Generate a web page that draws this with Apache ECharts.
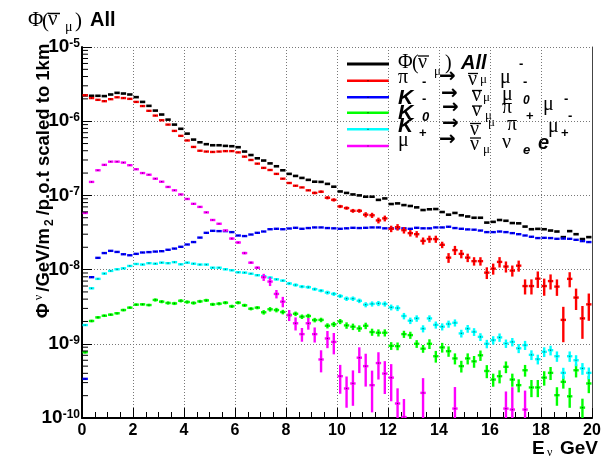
<!DOCTYPE html>
<html>
<head>
<meta charset="utf-8">
<script src="https://cdn.jsdelivr.net/npm/echarts@6/dist/echarts.min.js"></script>
<style>
  html, body { margin: 0; padding: 0; background: #ffffff; }
  #chart { width: 607px; height: 456px; }
</style>
</head>
<body>
<div id="chart"></div>
<script>
// Histogram binning: 80 bins of 0.25 GeV from 0 to 20 GeV
const binWidth = 0.25;
const nBins = 80;
const binCenters = Array.from({ length: nBins }, (_, i) => binWidth * (i + 0.5));

// Axis ranges and tick values
const xRange = [0, 20];
const yRange = [1e-10, 1e-5];
const xTickStep = 2;
const yMinorMultipliers = [2, 3, 4, 5, 6, 7, 8, 9];

// Total anti-nu_mu flux (black)
const fluxAll = [
  2.23e-6, 2.2e-6, 2.2e-6, 2.18e-6, 2.29e-6, 2.41e-6, 2.36e-6, 2.29e-6, 2.11e-6, 1.82e-6,
  1.61e-6, 1.39e-6, 1.23e-6, 1.05e-6, 9.0e-7, 7.9e-7, 6.8e-7, 5.65e-7, 5.2e-7, 4.9e-7,
  4.74e-7, 4.74e-7, 4.65e-7, 4.6e-7, 4.46e-7, 3.9e-7, 3.5e-7, 3.16e-7, 2.95e-7, 2.7e-7,
  2.47e-7, 2.18e-7, 1.95e-7, 1.83e-7, 1.72e-7, 1.62e-7, 1.53e-7, 1.52e-7, 1.43e-7, 1.31e-7,
  1.13e-7, 1.08e-7, 1.03e-7, 1.0e-7, 9.6e-8, 9.6e-8, 8.7e-8, 9.1e-8, 7.65e-8, 7.8e-8,
  7.4e-8, 7.2e-8, 6.9e-8, 6.35e-8, 6.5e-8, 6.55e-8, 5.97e-8, 5.5e-8, 5.8e-8, 5.4e-8,
  5.2e-8, 5.0e-8, 5.0e-8, 4.3e-8, 4.4e-8, 4.66e-8, 4.55e-8, 4.24e-8, 4.2e-8, 3.8e-8,
  3.5e-8, 3.54e-8, 3.5e-8, 3.36e-8, 3.26e-8, 2.74e-8, 3.3e-8, 3.0e-8, 2.58e-8, 2.74e-8
];

// pi- -> anti-nu_mu mu- (red)
const fluxPiMinus = [
  2.24e-6, 2.05e-6, 1.94e-6, 1.86e-6, 1.98e-6, 2.1e-6, 2.05e-6, 2.0e-6, 1.82e-6, 1.6e-6,
  1.38e-6, 1.19e-6, 1.03e-6, 9.0e-7, 7.4e-7, 6.35e-7, 5.5e-7, 4.5e-7, 4.0e-7, 3.9e-7,
  3.85e-7, 3.9e-7, 3.95e-7, 3.95e-7, 3.8e-7, 3.33e-7, 3.0e-7, 2.68e-7, 2.35e-7, 2.2e-7,
  1.95e-7, 1.68e-7, 1.47e-7, 1.35e-7, 1.28e-7, 1.17e-7, 1.08e-7, 1.12e-7, 9.3e-8, 8.7e-8,
  7.1e-8, 6.75e-8, 6.2e-8, 6.2e-8, 5.5e-8, 5.4e-8, 4.6e-8, 4.9e-8, 3.55e-8, 3.73e-8,
  3.4e-8, 3.1e-8, 3.0e-8, 2.44e-8, 2.58e-8, 2.58e-8, 2.16e-8, 1.45e-8, 1.83e-8, 1.63e-8,
  1.45e-8, 1.3e-8, 1.3e-8, 9.1e-9, 1.03e-8, 1.27e-8, 1.1e-8, 9.7e-9, 1.13e-8, 6.0e-9,
  6.0e-9, 7.55e-9, 6.0e-9, 7.0e-9, 5.9e-9, 2.1e-9, 7.5e-9, 4.2e-9, 2.2e-9, 3.4e-9
];
const errPiMinus = [
  0.01, 0.01, 0.01, 0.01, 0.01, 0.01, 0.01, 0.01, 0.01, 0.01,
  0.01, 0.01, 0.01, 0.01, 0.01, 0.01, 0.01, 0.01, 0.01, 0.01,
  0.01, 0.01, 0.01, 0.01, 0.01, 0.01, 0.01, 0.01, 0.01, 0.01,
  0.01, 0.01, 0.01, 0.01, 0.01, 0.01, 0.04, 0.04, 0.05, 0.05,
  0.05, 0.05, 0.06, 0.06, 0.08, 0.08, 0.09, 0.09, 0.1, 0.1,
  0.1, 0.1, 0.1, 0.11, 0.11, 0.11, 0.1, 0.15, 0.14, 0.13,
  0.13, 0.13, 0.13, 0.18, 0.17, 0.16, 0.17, 0.17, 0.17, 0.23,
  0.23, 0.25, 0.26, 0.23, 0.25, 0.5, 0.23, 0.32, 0.47, 0.4
];

// K- -> anti-nu_mu mu- (blue)
const fluxKMinus = [
  3.37e-10, 7.9e-9, 1.44e-8, 1.67e-8, 1.79e-8, 1.73e-8, 1.61e-8, 1.56e-8, 1.63e-8, 1.7e-8,
  1.72e-8, 1.75e-8, 1.77e-8, 1.85e-8, 1.92e-8, 2.03e-8, 2.18e-8, 2.35e-8, 2.7e-8, 3.13e-8,
  3.33e-8, 3.3e-8, 3.3e-8, 3.2e-8, 2.88e-8, 2.83e-8, 2.97e-8, 3.13e-8, 3.26e-8, 3.5e-8,
  3.55e-8, 3.5e-8, 3.58e-8, 3.66e-8, 3.55e-8, 3.63e-8, 3.7e-8, 3.7e-8, 3.63e-8, 3.6e-8,
  3.55e-8, 3.6e-8, 3.66e-8, 3.63e-8, 3.66e-8, 3.7e-8, 3.7e-8, 3.6e-8, 3.6e-8, 3.6e-8,
  3.6e-8, 3.55e-8, 3.66e-8, 3.6e-8, 3.6e-8, 3.7e-8, 3.7e-8, 3.78e-8, 3.63e-8, 3.55e-8,
  3.48e-8, 3.45e-8, 3.36e-8, 3.2e-8, 3.2e-8, 3.26e-8, 3.2e-8, 3.1e-8, 3.0e-8, 2.88e-8,
  2.77e-8, 2.66e-8, 2.68e-8, 2.66e-8, 2.6e-8, 2.62e-8, 2.6e-8, 2.52e-8, 2.42e-8, 2.35e-8
];

// K0 -> anti-nu_mu pi+ mu- (green)
const fluxK0 = [
  7.7e-10, 2.03e-9, 2.27e-9, 2.39e-9, 2.47e-9, 2.58e-9, 2.85e-9, 3.07e-9, 3.37e-9, 3.4e-9,
  3.33e-9, 3.9e-9, 3.7e-9, 3.55e-9, 3.5e-9, 3.8e-9, 3.66e-9, 3.55e-9, 3.73e-9, 3.85e-9,
  3.4e-9, 3.47e-9, 3.58e-9, 3.2e-9, 3.58e-9, 3.3e-9, 2.97e-9, 3.07e-9, 2.66e-9, 2.92e-9,
  2.85e-9, 2.68e-9, 2.44e-9, 2.54e-9, 2.32e-9, 2.37e-9, 2.09e-9, 2.1e-9, 1.75e-9, 1.83e-9,
  2.0e-9, 1.77e-9, 1.7e-9, 1.61e-9, 1.75e-9, 1.44e-9, 1.41e-9, 1.41e-9, 9.4e-10, 9.3e-10,
  1.35e-9, 1.31e-9, 1.0e-9, 8.6e-10, 1.0e-9, 6.8e-10, 8.95e-10, 7.95e-10, 6.35e-10, 5.0e-10,
  6.35e-10, 5.8e-10, 7.0e-10, 4.3e-10, 3.3e-10, 3.66e-10, 4.9e-10, 3.3e-10, 2.77e-10, 4.4e-10,
  2.58e-10, 2.58e-10, 3.5e-10, 4.06e-10, 2.03e-10, 3.07e-10, 1.96e-10, 4.4e-10, 1.38e-10, 2.92e-10
];
const errK0 = [
  0.04, 0.04, 0.04, 0.04, 0.04, 0.04, 0.04, 0.04, 0.04, 0.04,
  0.04, 0.05, 0.05, 0.05, 0.05, 0.05, 0.05, 0.05, 0.05, 0.05,
  0.05, 0.05, 0.05, 0.05, 0.05, 0.05, 0.05, 0.05, 0.07, 0.07,
  0.07, 0.07, 0.07, 0.07, 0.07, 0.07, 0.07, 0.07, 0.08, 0.08,
  0.08, 0.1, 0.1, 0.1, 0.1, 0.11, 0.11, 0.11, 0.12, 0.12,
  0.11, 0.11, 0.12, 0.12, 0.15, 0.18, 0.15, 0.16, 0.17, 0.18,
  0.17, 0.18, 0.16, 0.2, 0.2, 0.2, 0.18, 0.2, 0.2, 0.18,
  0.26, 0.26, 0.22, 0.2, 0.28, 0.19, 0.3, 0.2, 0.32, 0.26
];

// K+ -> anti-nu_mu pi mu+ (cyan)
const fluxKPlus = [
  1.79e-9, 5.6e-9, 7.5e-9, 8.85e-9, 9.6e-9, 1.01e-8, 1.04e-8, 1.12e-8, 1.19e-8, 1.17e-8,
  1.22e-8, 1.2e-8, 1.24e-8, 1.22e-8, 1.26e-8, 1.18e-8, 1.24e-8, 1.2e-8, 1.17e-8, 1.17e-8,
  1.06e-8, 1.06e-8, 1.01e-8, 9.8e-9, 9.2e-9, 9.1e-9, 8.8e-9, 8.4e-9, 8.15e-9, 7.8e-9,
  7.4e-9, 7.1e-9, 6.5e-9, 6.2e-9, 5.9e-9, 5.8e-9, 5.45e-9, 5.2e-9, 4.9e-9, 4.7e-9,
  4.4e-9, 4.06e-9, 4.06e-9, 3.8e-9, 3.37e-9, 3.45e-9, 3.5e-9, 3.45e-9, 3.1e-9, 3.03e-9,
  2.37e-9, 2.05e-9, 2.2e-9, 1.6e-9, 2.2e-9, 1.8e-9, 1.7e-9, 1.85e-9, 1.92e-9, 1.38e-9,
  1.6e-9, 1.45e-9, 1.24e-9, 1.0e-9, 1.12e-9, 1.22e-9, 1.01e-9, 1.06e-9, 8.7e-10, 9.6e-10,
  7.1e-10, 6.2e-10, 7.8e-10, 8.2e-10, 6.8e-10, 4.06e-10, 6.8e-10, 6.0e-10, 4.66e-10, 4.06e-10
];
const errKPlus = [
  0.03, 0.03, 0.03, 0.03, 0.03, 0.03, 0.03, 0.03, 0.03, 0.03,
  0.03, 0.03, 0.03, 0.03, 0.03, 0.03, 0.03, 0.03, 0.03, 0.03,
  0.03, 0.03, 0.03, 0.03, 0.03, 0.03, 0.03, 0.03, 0.04, 0.04,
  0.04, 0.04, 0.05, 0.05, 0.05, 0.05, 0.05, 0.05, 0.06, 0.06,
  0.06, 0.07, 0.07, 0.07, 0.08, 0.08, 0.08, 0.08, 0.09, 0.09,
  0.1, 0.1, 0.1, 0.11, 0.1, 0.11, 0.11, 0.11, 0.11, 0.12,
  0.12, 0.12, 0.12, 0.13, 0.13, 0.13, 0.13, 0.13, 0.14, 0.14,
  0.15, 0.15, 0.15, 0.15, 0.16, 0.17, 0.16, 0.17, 0.18, 0.18
];

// mu+ -> anti-nu_mu nu_e e+ (magenta); null marks empty bins
const fluxMuPlus = [
  5.8e-8, 1.52e-7, 2.18e-7, 2.58e-7, 2.85e-7, 2.85e-7, 2.77e-7, 2.55e-7, 2.25e-7, 2.0e-7,
  1.9e-7, 1.68e-7, 1.53e-7, 1.3e-7, 1.17e-7, 1.03e-7, 8.95e-8, 7.7e-8, 7.0e-8, 5.9e-8,
  4.66e-8, 4.15e-8, 3.37e-8, 2.62e-8, 2.32e-8, 1.67e-8, 1.24e-8, 1.06e-8, 7.9e-9, 6.9e-9,
  4.7e-9, 3.7e-9, 2.44e-9, 1.89e-9, 1.35e-9, 1.89e-9, 1.35e-9, 6.15e-10, 1.18e-9, 1.06e-9,
  3.66e-10, 2.5e-10, 2.92e-10, 6.5e-10, 5.0e-10, 2.77e-10, 5.5e-10, 3.97e-10, 3.5e-10, 1.57e-10,
  1.03e-10, null, null, 2.18e-10, null, null, null, null, 1.34e-10, null,
  null, null, null, null, null, null, 1.34e-10, 1.3e-10, null, 1.3e-10,
  null, null, null, null, null, null, null, null, null, null
];
const errMuPlus = [
  0.02, 0.02, 0.02, 0.02, 0.02, 0.02, 0.02, 0.02, 0.02, 0.02,
  0.02, 0.02, 0.02, 0.02, 0.02, 0.02, 0.02, 0.02, 0.02, 0.02,
  0.02, 0.02, 0.02, 0.04, 0.04, 0.04, 0.04, 0.04, 0.11, 0.13,
  0.13, 0.16, 0.17, 0.2, 0.21, 0.18, 0.23, 0.33, 0.26, 0.32,
  0.42, 0.45, 0.5, 0.38, 0.47, 0.57, 0.4, 0.47, 0.52, 0.6,
  0.75, 0, 0, 0.58, 0, 0, 0, 0, 0.95, 0,
  0, 0, 0, 0, 0, 0, 0.7, 1.0, 0, 0.8,
  0, 0, 0, 0, 0, 0, 0, 0, 0, 0
];

const SANS = "'Liberation Sans', Arial, Helvetica, sans-serif";
const SERIF = "'Liberation Serif', 'Times New Roman', 'DejaVu Serif', serif";
const ARROW = "'DejaVu Sans', 'Liberation Sans', sans-serif";

function toPoints(values, errors) {
  const pts = [];
  values.forEach((v, i) => {
    if (v == null) return;
    pts.push([binCenters[i], v, errors ? errors[i] : 0]);
  });
  return pts;
}

// Draws each bin as a horizontal bar across the bin plus a vertical error bar
function histRenderer(color, lw) {
  return function (params, api) {
    const x = api.value(0), v = api.value(1), r = api.value(2);
    const cs = params.coordSys;
    const pl = api.coord([x - binWidth / 2, v]);
    const pr = api.coord([x + binWidth / 2, v]);
    const cx = (pl[0] + pr[0]) / 2, cy = pl[1];
    const kids = [{
      type: 'line',
      shape: { x1: pl[0] + 0.5, y1: cy, x2: pr[0] - 0.5, y2: cy },
      style: { stroke: color, lineWidth: lw }
    }];
    if (r > 0) {
      const top = api.coord([x, v * (1 + r)])[1];
      const lowV = v * (1 - r);
      const bottom = lowV > 0 ? api.coord([x, lowV])[1] : cs.y + cs.height + 5;
      kids.push({
        type: 'line',
        shape: { x1: cx, y1: top, x2: cx, y2: bottom },
        style: { stroke: color, lineWidth: lw }
      });
    }
    kids.push({
      type: 'rect',
      shape: { x: cx - 0.6, y: cy - 0.6, width: 1.2, height: 1.2 },
      style: { fill: 'rgba(0,0,0,0.55)' }
    });
    return { type: 'group', children: kids };
  };
}

function histSeries(name, color, values, errors, lw) {
  return {
    name: name,
    type: 'custom',
    coordinateSystem: 'cartesian2d',
    clip: true,
    renderItem: histRenderer(color, lw),
    encode: { x: 0, y: 1 },
    data: toPoints(values, errors),
    z: 3
  };
}

// Minor ticks on the log axis at 2..9 x 10^n
const yMinorTicks = [];
for (let d = -10; d < -5; d++) {
  yMinorMultipliers.forEach(m => yMinorTicks.push(m * Math.pow(10, d)));
}

const tickSeries = {
  type: 'custom',
  coordinateSystem: 'cartesian2d',
  clip: false,
  silent: true,
  encode: { x: 0, y: 1 },
  data: yMinorTicks.map(v => [xRange[0], v]),
  renderItem: function (params, api) {
    const p = api.coord([api.value(0), api.value(1)]);
    return {
      type: 'line',
      shape: { x1: p[0], y1: p[1], x2: p[0] + 6, y2: p[1] },
      style: { stroke: '#000', lineWidth: 1 }
    };
  },
  z: 4
};

// Text helper: x = left edge, base = alphabetic baseline
function tx(str, x, base, size, fam, weight, style, color) {
  const f = fam === 'serif' ? SERIF : (fam === 'arrow' ? ARROW : SANS);
  return {
    type: 'text',
    x: x,
    y: base - 0.34 * size,
    style: {
      text: str,
      font: (style || 'normal') + ' ' + (weight || 'normal') + ' ' + size + 'px ' + f,
      fill: color || '#000',
      align: 'left',
      verticalAlign: 'middle'
    }
  };
}
function bar(x1, x2, y, w) {
  return { type: 'line', shape: { x1: x1, y1: y, x2: x2, y2: y }, style: { stroke: '#000', lineWidth: w || 1.3 } };
}
// Arrow glyph placed by its visual centre line
function arrow(x, centerY) {
  const size = 20;
  return {
    type: 'text',
    x: x,
    y: centerY,
    style: {
      text: '→',
      font: 'bold ' + size + 'px ' + ARROW,
      fill: '#000',
      align: 'left',
      verticalAlign: 'middle'
    }
  };
}

const legendRows = [
  { color: '#000000', y: 64, lw: 3 },
  { color: '#ff0000', y: 80.7, lw: 2.5 },
  { color: '#0000ff', y: 97.3, lw: 2.5 },
  { color: '#00ff00', y: 112.7, lw: 2.5 },
  { color: '#00ffff', y: 129.3, lw: 2.5 },
  { color: '#ff00ff', y: 146, lw: 2.5 }
];

const legendElements = [
  { type: 'rect', shape: { x: 339, y: 54, width: 244, height: 99 }, style: { fill: '#ffffff' } }
];
legendRows.forEach(r => {
  legendElements.push({ type: 'line', shape: { x1: 347, y1: r.y, x2: 389, y2: r.y }, style: { stroke: r.color, lineWidth: r.lw } });
  legendElements.push({ type: 'rect', shape: { x: 367.4, y: r.y - 0.6, width: 1.2, height: 1.2 }, style: { fill: 'rgba(0,0,0,0.6)' } });
});
legendElements.push(
  // Φ(ν̄μ) All
  tx('Φ', 398, 70, 20, 'serif'), tx('(', 412, 71, 20, 'serif'), tx('ν', 418, 70, 20, 'serif'), bar(418, 429, 56),
  tx('μ', 434, 76, 13, 'serif'), tx(')', 445, 71, 20, 'serif'), tx('All', 461, 70, 20, 'sans', 'bold', 'italic'),
  tx('-', 519, 69, 13, 'sans', 'bold'),
  // π- → ν̄μ μ-
  tx('π', 398, 85, 20, 'serif'), tx('-', 422, 87, 13, 'sans', 'bold'), arrow(439, 77),
  tx('ν', 468, 87, 20, 'serif'), bar(468, 478, 73.5), tx('μ', 480, 84, 13, 'serif'),
  tx('μ', 500, 85, 20, 'serif'), tx('-', 523, 87, 13, 'sans', 'bold'),
  // K- → ν̄μ μ0 -
  tx('K', 398, 105, 21, 'sans', 'bold', 'italic'), tx('-', 422, 104, 13, 'sans', 'bold'), arrow(441, 94),
  tx('ν', 472, 103, 20, 'serif'), bar(472, 482, 90.5), tx('μ', 483, 102, 13, 'serif'),
  tx('μ', 502, 102, 20, 'serif'), tx('0', 523, 105, 12, 'sans', 'bold', 'italic'), tx('-', 564, 104, 13, 'sans', 'bold'),
  // K0 → ν̄μ π+ μ-
  tx('K', 398, 120, 21, 'sans', 'bold', 'italic'), tx('0', 422, 122, 13, 'sans', 'bold', 'italic'), arrow(442, 108),
  tx('ν', 472, 118, 20, 'serif'), bar(472, 482, 106), tx('μ', 485, 120, 13, 'serif'),
  tx('π', 502, 115, 20, 'serif'), tx('+', 526, 121, 13, 'sans', 'bold'), tx('μ', 543, 112, 20, 'serif'), tx('-', 568, 121, 13, 'sans', 'bold'),
  // K+ → ν̄μ π μ+
  tx('K', 398, 133, 21, 'sans', 'bold', 'italic'), tx('+', 419, 138, 13, 'sans', 'bold'), arrow(442, 124),
  tx('ν', 470, 137, 20, 'serif'), bar(470, 481, 123.5), tx('μ', 488, 127, 13, 'serif'),
  tx('π', 507, 132, 20, 'serif'), tx('μ', 548, 134, 20, 'serif'), tx('+', 561, 138, 13, 'sans', 'bold'),
  // μ+ → ν̄μ νe e+
  tx('μ', 398, 148, 20, 'serif'), arrow(439, 140),
  tx('ν', 470, 152, 20, 'serif'), bar(470, 481, 138), tx('μ', 483, 154, 13, 'serif'),
  tx('ν', 502, 150, 20, 'serif'), tx('e', 523, 155, 13, 'sans', 'bold', 'italic'), tx('e', 538, 150, 20, 'sans', 'bold', 'italic')
);

const titleElements = [
  tx('Φ', 28, 28, 21, 'serif'), tx('(', 42, 29, 21, 'serif'), tx('ν', 48, 27, 21, 'serif'), bar(48, 60, 13.5, 1.5),
  tx('μ', 65, 32, 14, 'serif'), tx(')', 75, 29, 21, 'serif'), tx('All', 90, 27, 20, 'sans', 'bold')
];

const xTitleElements = [
  tx('E', 532, 455, 19, 'sans', 'bold'), tx('ν', 547, 457, 12, 'serif'), tx('GeV', 560, 455, 19, 'sans', 'bold')
];

const yTitle = {
  type: 'text',
  x: 44,
  y: 181,
  rotation: Math.PI / 2,
  style: {
    text: '{a|Φ}{s|ν}{a|/GeV/m}{d|2}{a|/p.o.t scaled to 1km}',
    align: 'center',
    verticalAlign: 'middle',
    fill: '#000',
    rich: {
      a: { fontFamily: SANS, fontWeight: 'bold', fontSize: 18.5, lineHeight: 23, verticalAlign: 'middle' },
      s: { fontFamily: SERIF, fontSize: 12, lineHeight: 12, verticalAlign: 'top', padding: [0, 3, 0, 3] },
      d: { fontFamily: SANS, fontWeight: 'bold', fontSize: 12, lineHeight: 12, verticalAlign: 'bottom', padding: [0, 4, 0, 2] }
    }
  }
};

const chart = echarts.init(document.getElementById('chart'), null, { renderer: 'canvas' });
chart.setOption({
  animation: false,
  backgroundColor: '#ffffff',
  grid: { left: 82, right: 15, top: 47, bottom: 38, containLabel: false },
  xAxis: {
    type: 'value',
    min: xRange[0],
    max: xRange[1],
    interval: xTickStep,
    axisLine: { onZero: false, lineStyle: { color: '#000', width: 2 } },
    axisTick: { inside: true, length: 10, lineStyle: { color: '#000', width: 1 } },
    minorTick: { show: true, splitNumber: 4, length: 6, lineStyle: { color: '#000', width: 1 } },
    splitLine: { show: true, lineStyle: { color: '#777', width: 1, type: [1, 2] } },
    axisLabel: { margin: 5, fontSize: 16, fontWeight: 'bold', color: '#000', fontFamily: SANS }
  },
  yAxis: [{
    type: 'log',
    logBase: 10,
    min: yRange[0],
    max: yRange[1],
    axisLine: { show: true, lineStyle: { color: '#000', width: 2 } },
    axisTick: { show: true, inside: true, length: 10, lineStyle: { color: '#000', width: 1 } },
    splitLine: { show: true, lineStyle: { color: '#777', width: 1, type: [1, 2] } },
    axisLabel: {
      margin: 2,
      color: '#000',
      formatter: function (v) {
        return '{b|10}{e|' + Math.round(Math.log10(v)) + '}';
      },
      rich: {
        b: { fontFamily: SANS, fontWeight: 'bold', fontSize: 19, lineHeight: 19, verticalAlign: 'middle' },
        e: { fontFamily: SANS, fontWeight: 'bold', fontSize: 12, lineHeight: 12, verticalAlign: 'top', padding: [0, 0, 3, 0] }
      }
    }
  }, {
    type: 'log',
    logBase: 10,
    min: yRange[0],
    max: yRange[1],
    position: 'right',
    axisLine: { show: true, lineStyle: { color: '#444', width: 1 } },
    axisTick: { show: false },
    axisLabel: { show: false },
    splitLine: { show: false }
  }],
  series: [
    tickSeries,
    histSeries('all', '#000000', fluxAll, null, 2.6),
    histSeries('K-', '#0000ff', fluxKMinus, null, 2.4),
    histSeries('K0', '#00ff00', fluxK0, errK0, 2.4),
    histSeries('K+', '#00ffff', fluxKPlus, errKPlus, 2.4),
    histSeries('pi-', '#ff0000', fluxPiMinus, errPiMinus, 2.4),
    histSeries('mu+', '#ff00ff', fluxMuPlus, errMuPlus, 2.4)
  ],
  graphic: [
    { type: 'group', z: 10, children: legendElements },
    { type: 'group', z: 10, children: titleElements },
    { type: 'group', z: 10, children: xTitleElements },
    Object.assign({ z: 10 }, yTitle)
  ]
});
</script>
</body>
</html>
